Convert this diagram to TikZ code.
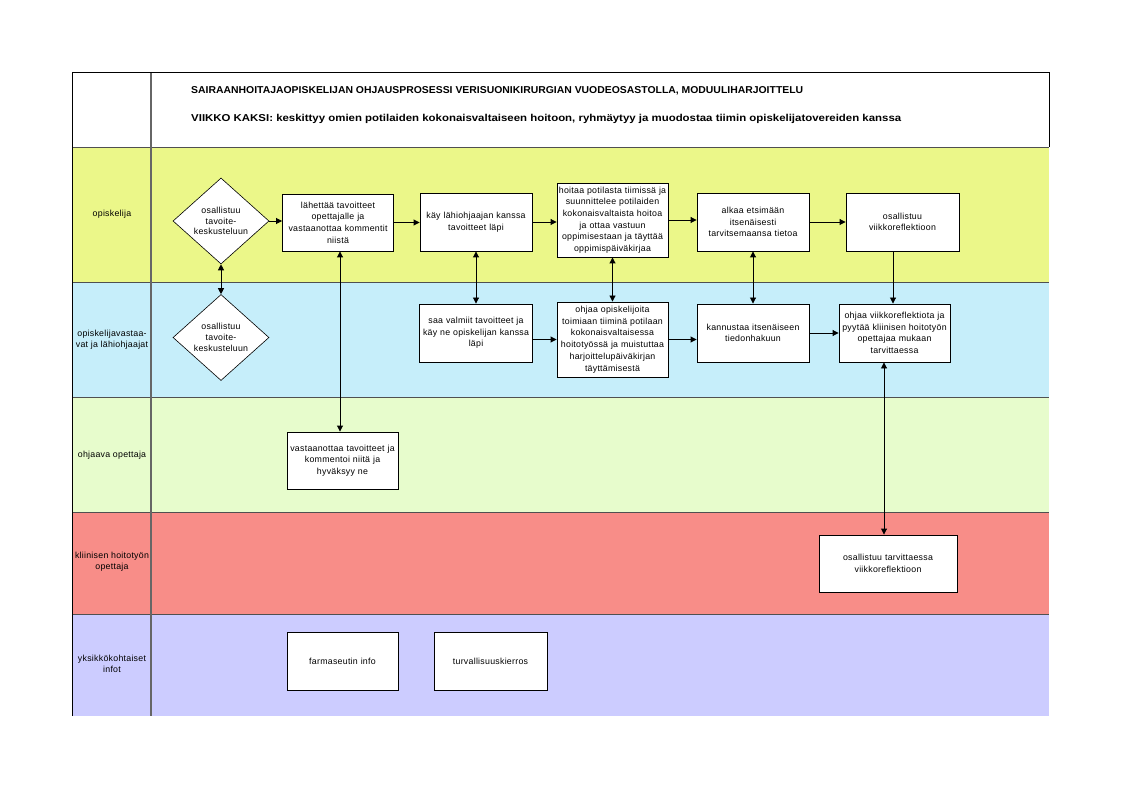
\documentclass[tikz,border=0pt]{standalone}
\usepackage{fontspec}
\usepackage{graphicx}
\setmainfont{Liberation Sans}
\newfontfamily\spacedfont{Liberation Sans}[LetterSpace=3.0]
\usetikzlibrary{arrows.meta,shapes.geometric,calc}
\definecolor{laneY}{RGB}{235,247,137}
\definecolor{laneB}{RGB}{198,238,250}
\definecolor{laneG}{RGB}{231,252,204}
\definecolor{laneR}{RGB}{248,141,136}
\definecolor{laneP}{RGB}{204,204,255}
\definecolor{sepgray}{RGB}{80,80,80}
\tikzset{
  boxtxt/.style={font=\spacedfont\fontsize{8.8}{11.7}\selectfont},
  stepbox/.style={draw, fill=white, line width=0.9pt, align=center, inner sep=1pt, boxtxt},
  decision/.style={diamond, draw, fill=white, line width=0.6pt, align=center, inner sep=0pt, minimum width=96pt, minimum height=86pt, font=\spacedfont\fontsize{8.8}{10.8}\selectfont},
  lanelabel/.style={align=center, font=\spacedfont\fontsize{8.8}{11}\selectfont, inner sep=0pt},
  conn/.style={line width=0.9pt, -{Triangle[length=6pt,width=6pt]}},
  conn2/.style={line width=0.9pt, {Triangle[length=6pt,width=6pt]}-{Triangle[length=6pt,width=6pt]}},
  sep/.style={draw=sepgray, line width=0.8pt},
  titletxt/.style={anchor=west, inner sep=0pt, font=\fontsize{10}{12}\selectfont\bfseries}
}
\begin{document}
\begin{tikzpicture}[x=1pt,y=-1pt]
\useasboundingbox (0,0) rectangle (1122,794);
% lanes
\fill[laneY] (72,147) rectangle (1049,282);
\fill[laneB] (72,282) rectangle (1049,397);
\fill[laneG] (72,397) rectangle (1049,512);
\fill[laneR] (72,512) rectangle (1049,614);
\fill[laneP] (72,614) rectangle (1049,716);
\draw[sep] (72,147) -- (1049,147);
\draw[sep] (72,282) -- (1049,282);
\draw[sep] (72,397) -- (1049,397);
\draw[sep] (72,512) -- (1049,512);
\draw[sep] (72,614) -- (1049,614);
\draw[draw=gray!80!black, line width=1.2pt] (151,72) -- (151,716);
\draw[line width=0.9pt] (72,716) -- (72,72) -- (1049,72) -- (1049,147);
% title
\node[titletxt] (t1) at (191,91) {\resizebox{612pt}{\height}{SAIRAANHOITAJAOPISKELIJAN OHJAUSPROSESSI VERISUONIKIRURGIAN VUODEOSASTOLLA, MODUULIHARJOITTELU}};
\node[titletxt] (t2) at (191,119) {\resizebox{710pt}{\height}{VIIKKO KAKSI: keskittyy omien potilaiden kokonaisvaltaiseen hoitoon, ryhmäytyy ja muodostaa tiimin opiskelijatovereiden kanssa}};
% lane labels
\node[lanelabel] (l1) at (112,214) {opiskelija};
\node[lanelabel] (l2) at (112,340) {opiskelijavastaa-\\vat ja lähiohjaajat};
\node[lanelabel] (l3) at (112,455) {ohjaava opettaja};
\node[lanelabel] (l4) at (112,562) {kliinisen hoitotyön\\opettaja};
\node[lanelabel] (l5) at (112,664) {yksikkökohtaiset\\infot};
% row 1
\node[decision] (d1) at (221,221) {osallistuu\\tavoite-\\keskusteluun};
\node[stepbox, minimum width=111pt, minimum height=57pt, text width=109pt] (b1) at (338,222.5) {lähettää tavoitteet\\opettajalle ja\\vastaanottaa kommentit\\niistä};
\node[stepbox, minimum width=112pt, minimum height=58pt, text width=110pt] (b2) at (476,222) {käy lähiohjaajan kanssa\\tavoitteet läpi};
\node[stepbox, minimum width=111pt, minimum height=74pt, text width=109pt] (b3) at (612.5,220) {hoitaa potilasta tiimissä ja\\suunnittelee potilaiden\\kokonaisvaltaista hoitoa\\ja ottaa vastuun\\oppimisestaan ja täyttää\\oppimispäiväkirjaa};
\node[stepbox, minimum width=112pt, minimum height=58pt, text width=110pt] (b4) at (753,222) {alkaa etsimään\\itsenäisesti\\tarvitsemaansa tietoa};
\node[stepbox, minimum width=113pt, minimum height=58pt, text width=111pt] (b5) at (902.5,222) {osallistuu\\viikkoreflektioon};
% row 2
\node[decision] (d2) at (221,337.5) {osallistuu\\tavoite-\\keskusteluun};
\node[stepbox, minimum width=113pt, minimum height=58pt, text width=111pt] (c1) at (476,333) {saa valmiit tavoitteet ja\\käy ne opiskelijan kanssa\\läpi};
\node[stepbox, minimum width=111pt, minimum height=75pt, text width=109pt] (c2) at (612.5,339.5) {ohjaa opiskelijoita\\toimiaan tiiminä potilaan\\kokonaisvaltaisessa\\hoitotyössä ja muistuttaa\\harjoittelupäiväkirjan\\täyttämisestä};
\node[stepbox, minimum width=112pt, minimum height=58pt, text width=110pt] (c3) at (753,333) {kannustaa itsenäiseen\\tiedonhakuun};
\node[stepbox, minimum width=111pt, minimum height=58pt, text width=109pt] (c4) at (894.5,333) {ohjaa viikkoreflektiota ja\\pyytää kliinisen hoitotyön\\opettajaa mukaan\\tarvittaessa};
% row 3
\node[stepbox, minimum width=111pt, minimum height=57pt, text width=109pt] (e1) at (342.5,460.5) {vastaanottaa tavoitteet ja\\kommentoi niitä ja\\hyväksyy ne};
% row 4
\node[stepbox, minimum width=138pt, minimum height=57pt, text width=136pt] (f1) at (888,563.5) {osallistuu tarvittaessa\\viikkoreflektioon};
% row 5
\node[stepbox, minimum width=111pt, minimum height=58pt, text width=109pt] (g1) at (342.5,661) {farmaseutin info};
\node[stepbox, minimum width=113pt, minimum height=58pt, text width=111pt] (g2) at (490.5,661) {turvallisuuskierros};
% horizontal connectors
\draw[conn] (d1.east) -- (d1.east -| b1.west);
\draw[conn] (b1.east) -- (b1.east -| b2.west);
\draw[conn] (b2.east) -- (b2.east -| b3.west);
\draw[conn] (b3.east) -- (b3.east -| b4.west);
\draw[conn] (b4.east) -- (b4.east -| b5.west);
\draw[conn] (c1.east |- c2.west) -- (c2.west);
\draw[conn] (c2.east) -- (c2.east -| c3.west);
\draw[conn] (c3.east) -- (c4.west);
% vertical connectors
\draw[conn2] (d1.south) -- (d1.south |- d2.north);
\draw[conn2] ([xshift=2pt]b1.south) -- ([xshift=2pt]b1.south |- e1.north);
\draw[conn2] (b2.south) -- (b2.south |- c1.north);
\draw[conn2] (b3.south) -- (b3.south |- c2.north);
\draw[conn2] (b4.south) -- (b4.south |- c3.north);
\draw[conn] ([xshift=-1.5pt]c4.north |- b5.south) -- ([xshift=-1.5pt]c4.north);
\draw[conn2] ([xshift=-10.5pt]c4.south) -- ([xshift=-10.5pt]c4.south |- f1.north);
\end{tikzpicture}
\end{document}
